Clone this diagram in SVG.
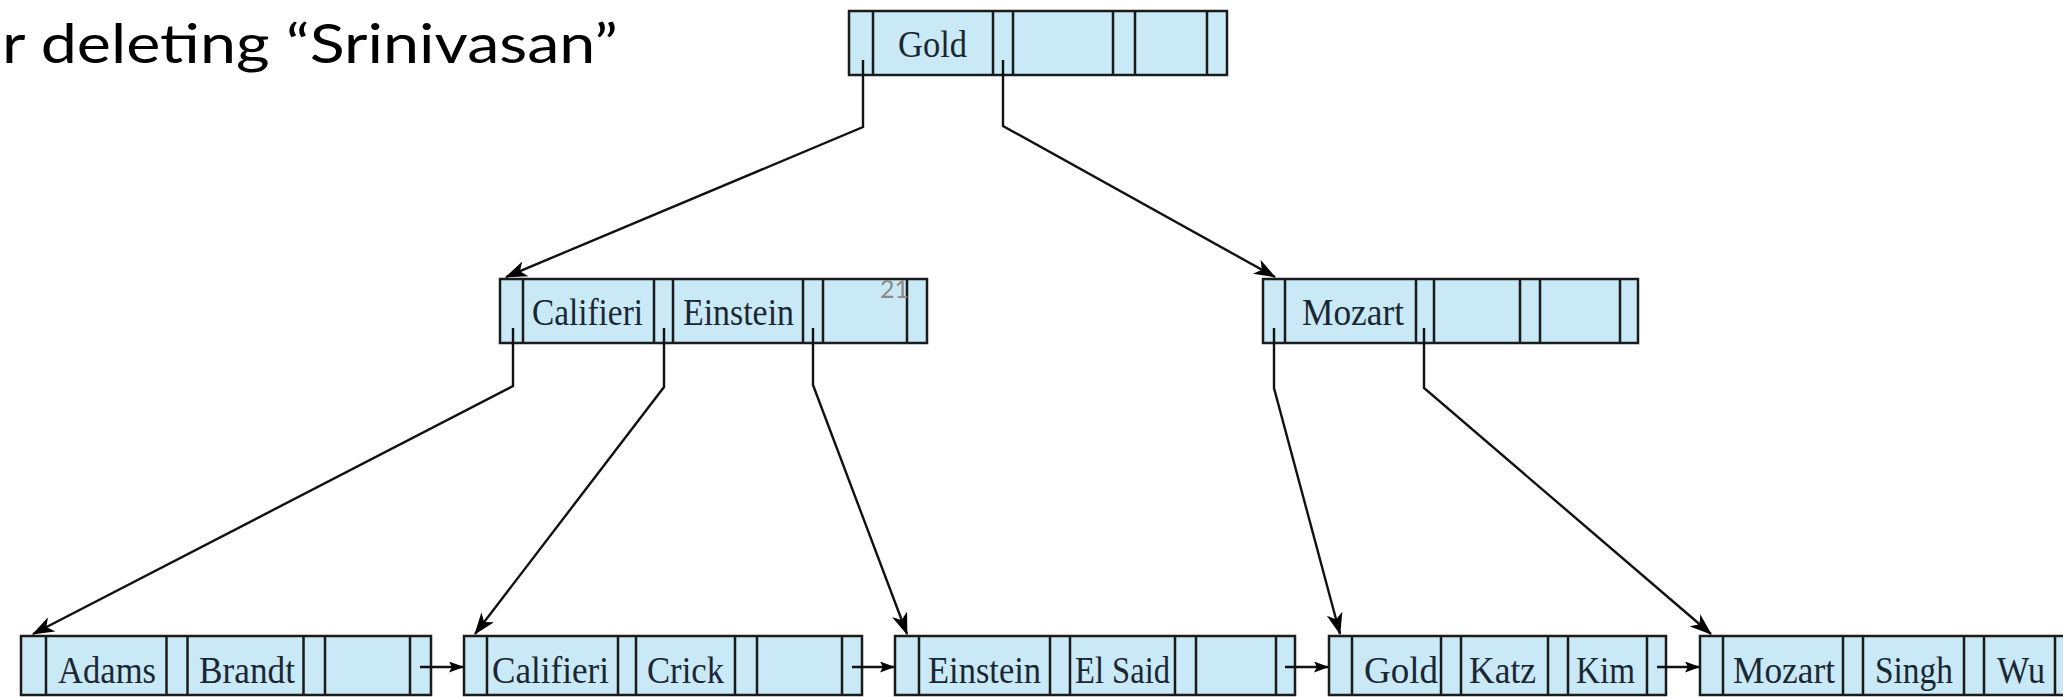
<svg xmlns="http://www.w3.org/2000/svg" width="2063" height="697" viewBox="0 0 2063 697">
<style>
.box{fill:#c9e9f6;stroke:#1b1b1b;stroke-width:2.5}
.dv{fill:none;stroke:#1b1b1b;stroke-width:2.5}
.key{font-family:"Liberation Serif",serif;font-size:37px;fill:#1a2733}
.edge{fill:none;stroke:#111;stroke-width:2.4}
.title{font-family:Lato,"Open Sans",sans-serif;font-size:54px;fill:#000}
.pg{font-family:Lato,"Open Sans",sans-serif;font-size:25px;fill:#8a8a8a}
</style>
<defs>
<marker id="ah" viewBox="0 0 22 16" refX="21" refY="8" markerWidth="22" markerHeight="16" markerUnits="userSpaceOnUse" orient="auto">
<path d="M0,0 L22,8 L0,16 L6,8 Z" fill="#000"/>
</marker>
<marker id="ahs" viewBox="0 0 15 11" refX="14" refY="5.5" markerWidth="15" markerHeight="11" markerUnits="userSpaceOnUse" orient="auto">
<path d="M0,0 L15,5.5 L0,11 L3,5.5 Z" fill="#000"/>
</marker>
</defs>
<rect width="2063" height="697" fill="#fff"/>
<text class="title" x="2" y="63" textLength="616" lengthAdjust="spacingAndGlyphs">r deleting “Srinivasan”</text>

<g id="node-root">
<rect class="box" x="849" y="11" width="378" height="64"/>
<path class="dv" d="M873,11V75M993,11V75M1013,11V75M1113,11V75M1135,11V75M1207,11V75"/>
<text class="key" x="898" y="57" textLength="69" lengthAdjust="spacingAndGlyphs">Gold</text>
</g>

<g id="node-mid-left">
<rect class="box" x="500" y="279" width="427" height="64"/>
<path class="dv" d="M523,279V343M654,279V343M673,279V343M803,279V343M823,279V343M907,279V343"/>
<text class="key" x="532" y="325" textLength="111" lengthAdjust="spacingAndGlyphs">Califieri</text>
<text class="key" x="683" y="325" textLength="111" lengthAdjust="spacingAndGlyphs">Einstein</text>
<text class="pg" x="880" y="298">21</text>
</g>

<g id="node-mid-right">
<rect class="box" x="1263" y="279" width="375" height="64"/>
<path class="dv" d="M1285,279V343M1416,279V343M1434,279V343M1520,279V343M1540,279V343M1620,279V343"/>
<text class="key" x="1302" y="325" textLength="102" lengthAdjust="spacingAndGlyphs">Mozart</text>
</g>

<g id="leaf-1">
<rect class="box" x="21" y="636" width="410" height="59"/>
<path class="dv" d="M46,636V695M166.5,636V695M187.5,636V695M303.5,636V695M325,636V695M410,636V695"/>
<text class="key" x="58" y="683" textLength="98" lengthAdjust="spacingAndGlyphs">Adams</text>
<text class="key" x="199" y="683" textLength="96" lengthAdjust="spacingAndGlyphs">Brandt</text>
</g>

<g id="leaf-2">
<rect class="box" x="464" y="636" width="398" height="59"/>
<path class="dv" d="M487,636V695M618,636V695M636,636V695M735,636V695M757,636V695M842,636V695"/>
<text class="key" x="492" y="683" textLength="117" lengthAdjust="spacingAndGlyphs">Califieri</text>
<text class="key" x="647" y="683" textLength="77" lengthAdjust="spacingAndGlyphs">Crick</text>
</g>

<g id="leaf-3">
<rect class="box" x="895" y="636" width="400" height="59"/>
<path class="dv" d="M919,636V695M1050,636V695M1070,636V695M1175,636V695M1196,636V695M1276,636V695"/>
<text class="key" x="928" y="683" textLength="113" lengthAdjust="spacingAndGlyphs">Einstein</text>
<text class="key" x="1075" y="683" textLength="95" lengthAdjust="spacingAndGlyphs">El Said</text>
</g>

<g id="leaf-4">
<rect class="box" x="1329" y="636" width="337" height="59"/>
<path class="dv" d="M1352,636V695M1441,636V695M1461,636V695M1548,636V695M1568,636V695M1647,636V695"/>
<text class="key" x="1364" y="683" textLength="74" lengthAdjust="spacingAndGlyphs">Gold</text>
<text class="key" x="1469" y="683" textLength="67" lengthAdjust="spacingAndGlyphs">Katz</text>
<text class="key" x="1576" y="683" textLength="59" lengthAdjust="spacingAndGlyphs">Kim</text>
</g>

<g id="leaf-5">
<rect class="box" x="1700" y="636" width="376" height="59"/>
<path class="dv" d="M1723,636V695M1843,636V695M1863,636V695M1964,636V695M1984,636V695M2055,636V695"/>
<text class="key" x="1733" y="683" textLength="102" lengthAdjust="spacingAndGlyphs">Mozart</text>
<text class="key" x="1875" y="683" textLength="78" lengthAdjust="spacingAndGlyphs">Singh</text>
<text class="key" x="1997" y="683" textLength="48" lengthAdjust="spacingAndGlyphs">Wu</text>
</g>

<g id="connectors">
<path class="edge" marker-end="url(#ah)" d="M863,60V127L506,277"/>
<path class="edge" marker-end="url(#ah)" d="M1003,60V126L1275,277"/>
<path class="edge" marker-end="url(#ah)" d="M513,328V386L33,634"/>
<path class="edge" marker-end="url(#ah)" d="M664,328V387L475,634"/>
<path class="edge" marker-end="url(#ah)" d="M813,328V385L907,634"/>
<path class="edge" marker-end="url(#ah)" d="M1274,328V388L1340,634"/>
<path class="edge" marker-end="url(#ah)" d="M1424,328V388L1711,634"/>
<path class="edge" marker-end="url(#ahs)" d="M420,667H463"/>
<path class="edge" marker-end="url(#ahs)" d="M852,667H894"/>
<path class="edge" marker-end="url(#ahs)" d="M1285,667H1328"/>
<path class="edge" marker-end="url(#ahs)" d="M1657,667H1699"/>
</g>
</svg>
